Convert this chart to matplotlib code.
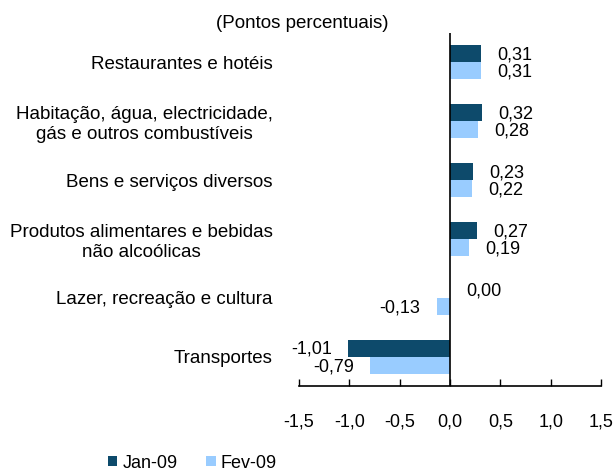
import matplotlib
matplotlib.use('Agg')
import matplotlib.pyplot as plt
import numpy as np

categories = [
    'Restaurantes e hotéis',
    'Habitação, água, electricidade,\ngás e outros combustíveis',
    'Bens e serviços diversos',
    'Produtos alimentares e bebidas\nnão alcoólicas',
    'Lazer, recreação e cultura',
    'Transportes',
]
jan09 = [0.31, 0.32, 0.23, 0.27, 0.00, -1.01]
fev09 = [0.31, 0.28, 0.22, 0.19, -0.13, -0.79]
series_names = ['Jan-09', 'Fev-09']
xticks = [-1.5, -1.0, -0.5, 0.0, 0.5, 1.0, 1.5]

dark = '#0d4a6b'
light = '#99ccff'

plt.rcParams['font.family'] = ['Liberation Sans', 'DejaVu Sans']
plt.rcParams['font.size'] = 13

fig = plt.figure(figsize=(6.16, 4.70), dpi=100)
ax = fig.add_axes([299/616, 1 - 386/470, 302/616, 353/470])

y = np.arange(len(categories))
h = 0.29
b1 = ax.barh(y - h/2, jan09, height=h, color=dark, label=series_names[0])
b2 = ax.barh(y + h/2, fev09, height=h, color=light, label=series_names[1])

def fmt(v):
    return ('%.2f' % v).replace('.', ',')

# value labels beside the bar ends
for bars, vals in ((b1, jan09), (b2, fev09)):
    for bar, v in zip(bars, vals):
        yc = bar.get_y() + bar.get_height()/2
        if v < 0:
            ax.annotate(fmt(v), (v, yc), xytext=(-12, -1), textcoords='offset points',
                        ha='right', va='center', fontsize=13)
        else:
            ax.annotate(fmt(v), (v, yc), xytext=(11.5, -1), textcoords='offset points',
                        ha='left', va='center', fontsize=13)

ax.axvline(0, color='black', lw=1.2)
ax.set_xlim(-1.5, 1.5)
ax.set_ylim(len(categories) - 0.5, -0.5)

ax.set_xticks(xticks)
ax.set_xticklabels([('%.1f' % t).replace('.', ',') for t in xticks])
ax.tick_params(axis='x', direction='in', length=5, width=1, pad=20, labelsize=13)

ax.set_yticks(y)
ax.set_yticklabels(categories)
ax.tick_params(axis='y', length=0, pad=19, labelsize=13.5)
for lbl in ax.get_yticklabels():
    lbl.set_multialignment('center')

for s in ('top', 'right', 'left'):
    ax.spines[s].set_visible(False)
ax.spines['bottom'].set_linewidth(1.2)

fig.text(302/616, 1 - 23/470, '(Pontos percentuais)', ha='center', va='center', fontsize=13.5)

fig.legend(handles=[b1, b2], loc='center left', bbox_to_anchor=(99/616, 1 - 463/470),
           ncol=2, frameon=False, borderpad=0, handlelength=0.5, handleheight=0.5,
           handletextpad=0.3, columnspacing=1.6, fontsize=13)

fig.savefig('out.png', dpi=100)
